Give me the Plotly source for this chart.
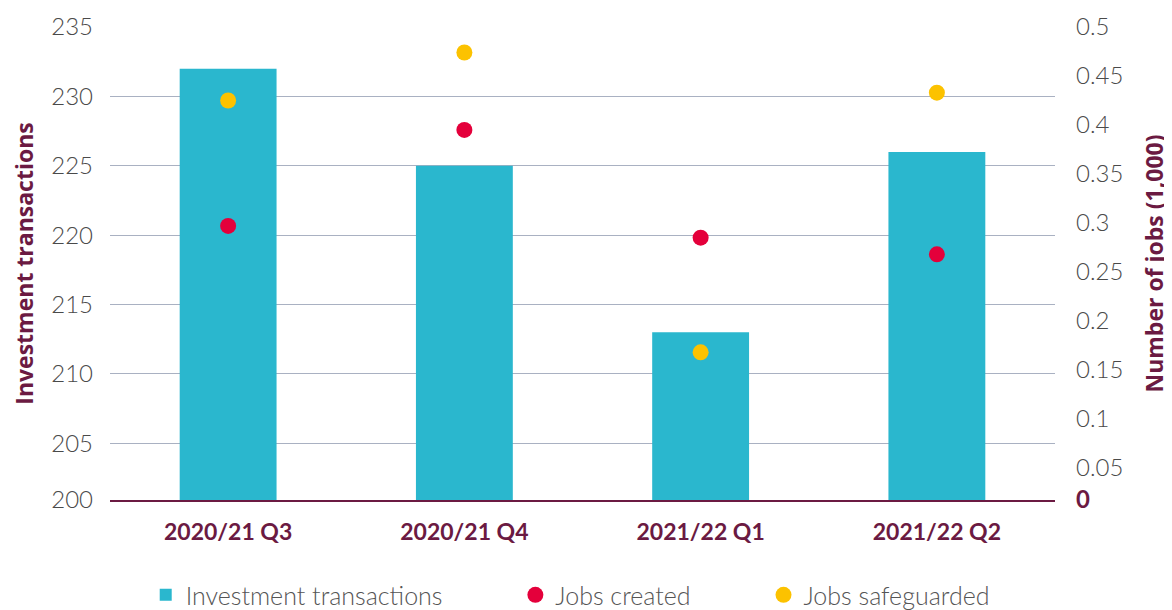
import plotly.graph_objects as go

categories = ["2020/21 Q3", "2020/21 Q4", "2021/22 Q1", "2021/22 Q2"]
investment_transactions = [232, 225, 213, 226]
jobs_created = [0.297, 0.395, 0.285, 0.268]
jobs_safeguarded = [0.425, 0.474, 0.168, 0.433]

left_ticks = [205, 210, 215, 220, 225, 230, 235]
right_ticks = [0.05, 0.1, 0.15, 0.2, 0.25, 0.3, 0.35, 0.4, 0.45, 0.5]

# visible ranges (plot bottom sits slightly above the nominal minimum)
left_range = [200.92, 235]
right_range = [0.0173, 0.5]

MAROON = "#6b1a42"
TEAL = "#2ab7ce"
RED = "#e4003b"
YELLOW = "#fcc200"
TICKGRAY = "#4a4a4a"
PAD = "\u00a0" * 10

fig = go.Figure()
fig.add_trace(go.Bar(
    x=categories, y=[v - left_range[0] for v in investment_transactions],
    base=left_range[0],
    name="Investment transactions" + PAD, marker=dict(color=TEAL, line=dict(width=0)),
    width=0.41, yaxis="y",
))
fig.add_trace(go.Scatter(
    x=categories, y=jobs_created, mode="markers", name="Jobs created" + PAD,
    marker=dict(color=RED, size=16), yaxis="y2",
))
fig.add_trace(go.Scatter(
    x=categories, y=jobs_safeguarded, mode="markers", name="Jobs safeguarded",
    marker=dict(color=YELLOW, size=16), yaxis="y2",
))

# page body has an 8px default margin, so the figure is sized/offset to compensate
fig.update_layout(
    width=1164, height=602,
    margin=dict(l=102, r=117, t=19, b=110, autoexpand=False),
    plot_bgcolor="white", paper_bgcolor="white",
    font=dict(family="Lato, Open Sans, sans-serif", color=TICKGRAY),
    showlegend=True,
    legend=dict(orientation="h", x=0.483, xanchor="center", xref="container",
                y=0.063, yanchor="top", yref="container",
                font=dict(size=25, color="#555555", family="Lato", weight=300),
                itemwidth=30, itemsizing="trace"),
    bargap=0.59,
    xaxis=dict(
        showgrid=False, showline=True, linecolor=MAROON, linewidth=1.5,
        ticks="", ticklabelstandoff=11, automargin=False,
        tickfont=dict(size=23, color=MAROON, family="Lato", weight="bold"),
        zeroline=False,
    ),
    yaxis=dict(
        range=left_range, automargin=False,
        tickvals=[left_range[0]] + left_ticks,
        ticktext=["200"] + [str(t) for t in left_ticks],
        showgrid=True, gridcolor="#a9b1c2", gridwidth=1,
        showline=False, zeroline=False, ticks="",
        ticklabelstandoff=16,
        tickfont=dict(size=24, color=TICKGRAY, family="Lato", weight=300),
        title=dict(text="<b>Investment transactions</b>",
                   font=dict(size=23, color=MAROON, family="Open Sans"), standoff=19),
    ),
    yaxis2=dict(
        range=right_range, overlaying="y", side="right", automargin=False,
        tickvals=[right_range[0]] + right_ticks,
        ticktext=["<b><span style='color:%s'>0</span></b>" % MAROON] + [("%g" % t) for t in right_ticks],
        showgrid=False, showline=False, zeroline=False, ticks="",
        ticklabelstandoff=20,
        tickfont=dict(size=24, color=TICKGRAY, family="Lato", weight=300),
        title=dict(text="<b>Number of jobs (1,000)</b>",
                   font=dict(size=23, color=MAROON, family="Open Sans"), standoff=24),
    ),
)

fig.write_html("out.html")
